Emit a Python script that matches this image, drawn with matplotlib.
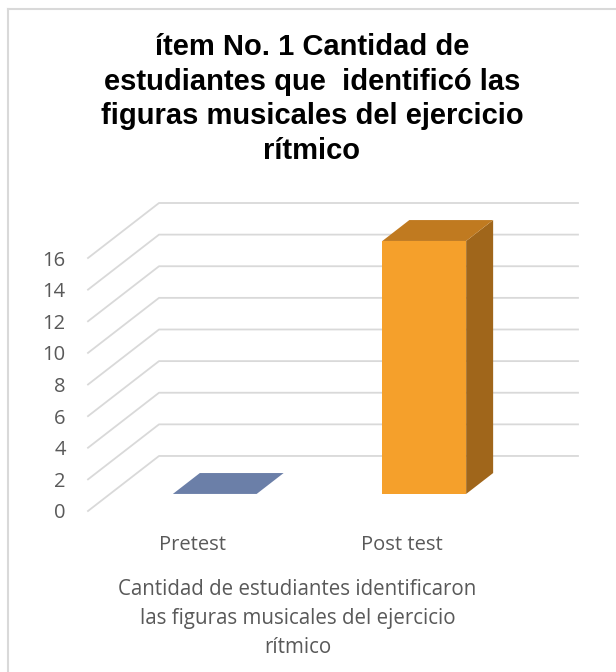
import matplotlib
matplotlib.use("Agg")
import matplotlib.pyplot as plt
from matplotlib.patches import Polygon
from matplotlib.lines import Line2D

# Data
categories = ["Pretest", "Post test"]
values = [0, 16]
yticks = [0, 2, 4, 6, 8, 10, 12, 14, 16]
title = "ítem No. 1 Cantidad de\nestudiantes que  identificó las\nfiguras musicales del ejercicio\nrítmico"
xlabel = "Cantidad de estudiantes identificaron\nlas figuras musicales del ejercicio\nrítmico"
bar_colors = [("#6B7FA8", "#6B7FA8", "#56688F"), ("#F5A02B", "#C07A20", "#A0661B")]  # front, top, side

# 3D look (offset of the back wall in data units)
ddx = 0.339
ddy = 3.48
bar_w = 0.4
f0, f1 = 0.31, 0.69  # bar depth range

W, H = 616, 672
fig = plt.figure(figsize=(W / 100, H / 100), dpi=100)
ax = fig.add_axes([88 / W, (H - 511) / H, 490 / W, 308 / H])
ax.set_xlim(-0.5, len(categories) - 0.5 + ddx)
ax.set_ylim(0, yticks[-1] + ddy)
for s in ax.spines.values():
    s.set_visible(False)

grid_c = "#D9D9D9"
for v in yticks:
    ax.plot([-0.5, -0.5 + ddx, len(categories) - 0.5 + ddx], [v, v + ddy, v + ddy],
            color=grid_c, lw=1.3, clip_on=False, zorder=1)

for i, (v, (cf, ct, cs)) in enumerate(zip(values, bar_colors)):
    x0 = i - bar_w / 2 + f0 * ddx
    x1 = i + bar_w / 2 + f0 * ddx
    yb = f0 * ddy
    yt = yb + v
    dx = (f1 - f0) * ddx
    dy = (f1 - f0) * ddy
    if v > 0:
        ax.add_patch(Polygon([(x0, yb), (x1, yb), (x1, yt), (x0, yt)], closed=True, fc=cf, ec="none", zorder=3))
        ax.add_patch(Polygon([(x1, yb), (x1 + dx, yb + dy), (x1 + dx, yt + dy), (x1, yt)], closed=True, fc=cs, ec="none", zorder=3))
    ax.add_patch(Polygon([(x0, yt), (x1, yt), (x1 + dx, yt + dy), (x0 + dx, yt + dy)], closed=True, fc=ct, ec="none", zorder=3))

txt_c = "#595959"
ax.set_yticks(yticks)
ax.set_yticklabels([str(t) for t in yticks], fontsize=14.5, color=txt_c, family="Open Sans")
ax.set_xticks(range(len(categories)))
ax.set_xticklabels(categories, fontsize=14.5, color=txt_c, family="Open Sans")
ax.tick_params(axis="y", length=0, pad=16)
ax.tick_params(axis="x", length=0, pad=17)

ax.annotate(xlabel, xy=(0.5, 0), xycoords=("data", "axes fraction"), xytext=(0, -68),
            textcoords="offset pixels", ha="center", va="top", fontsize=14.8, color=txt_c,
            family="Open Sans", linespacing=1.5)

fig.text(312 / W, 1 - 33 / H, title, ha="center", va="top", fontsize=21, fontweight="bold",
         family="Liberation Sans", color="black", linespacing=1.3)

# chart border (left and top visible)
fig.add_artist(Line2D([8 / W, 8 / W], [0, 1 - 9 / H], color=grid_c, lw=1.5, transform=fig.transFigure))
fig.add_artist(Line2D([8 / W, 1], [1 - 9 / H, 1 - 9 / H], color=grid_c, lw=1.5, transform=fig.transFigure))

fig.savefig("out.png", dpi=100)
